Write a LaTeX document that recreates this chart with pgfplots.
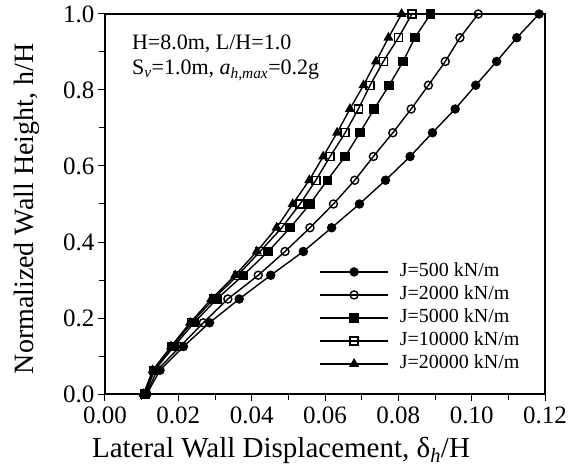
\documentclass[border=0pt]{standalone}
\usepackage{fontspec}
\setmainfont{Liberation Serif}
\usepackage{pgfplots}
\pgfplotsset{compat=1.18}
\begin{document}
\begin{tikzpicture}
\begin{axis}[
  at={(105pt,78pt)}, anchor=south west,
  scale only axis, width=440pt, height=380pt,
  xmin=0, xmax=0.12, ymin=0, ymax=1,
  xtick={0,0.02,0.04,0.06,0.08,0.1,0.12},
  minor xtick={0.01,0.03,0.05,0.07,0.09,0.11},
  ytick={0,0.2,0.4,0.6,0.8,1},
  minor ytick={0.1,0.3,0.5,0.7,0.9},
  xtick pos=bottom, ytick pos=left, tick align=outside,
  major tick length=7pt, minor tick length=6pt,
  every tick/.style={black, line width=1pt},
  axis line style={line width=1.4pt},
  scaled x ticks=false,
  xticklabel style={font=\fontsize{25}{28}\selectfont, yshift=-5pt, inner sep=1pt, /pgf/number format/.cd, fixed, fixed zerofill, precision=2, assume math mode=true},
  yticklabel style={font=\fontsize{25}{28}\selectfont, /pgf/number format/.cd, fixed, fixed zerofill, precision=1, assume math mode=true},
  xlabel={Lateral Wall Displacement, δ\textsubscript{\textit{h}}/H},
  ylabel={Normalized Wall Height, h/H},
  xlabel style={font=\fontsize{29}{32}\selectfont, inner sep=0pt, at={(axis description cs:0.4,-0.1658)}, anchor=base},
  ylabel style={font=\fontsize{28}{32}\selectfont, at={(axis description cs:-0.1636,0.487)}, anchor=base},
  legend style={at={(axis description cs:0.48,0.352)}, anchor=north west, draw=none, fill=none,
    font=\fontsize{20}{22}\selectfont, row sep=4pt,
    nodes={inner sep=0pt, text height=14pt, text depth=5pt}},
  legend cell align=left,
  legend image code/.code={\draw[mark repeat=2,mark phase=2,#1] plot coordinates {(0pt,0pt) (34pt,0pt) (68pt,0pt)}; \path (79pt,0pt);},
]
\addplot[black, line width=1.4pt, mark=*, mark size=4pt] coordinates {
(0.0114,0) (0.0150,0.0625) (0.0214,0.125) (0.0285,0.1875) (0.0366,0.25) (0.0452,0.3125)
(0.0541,0.375) (0.0618,0.4375) (0.0694,0.5) (0.0765,0.5625) (0.0832,0.625) (0.0893,0.6875)
(0.0955,0.75) (0.1011,0.8125) (0.1068,0.875) (0.1123,0.9375) (0.1184,1.0)};
\addlegendentry{J=500 kN/m}
\addplot[black, line width=1.4pt, mark=o, mark size=4pt, mark options={fill=white}] coordinates {
(0.0113,0) (0.0142,0.0625) (0.0205,0.125) (0.0268,0.1875) (0.0335,0.25) (0.0418,0.3125)
(0.0491,0.375) (0.0559,0.4375) (0.0623,0.5) (0.0681,0.5625) (0.0732,0.625) (0.0785,0.6875)
(0.0835,0.75) (0.0882,0.8125) (0.0928,0.875) (0.0968,0.9375) (0.1018,1.0)};
\addlegendentry{J=2000 kN/m}
\addplot[black, line width=1.4pt, mark=square*, mark size=4pt] coordinates {
(0.0110,0) (0.0135,0.0625) (0.0188,0.125) (0.0243,0.1875) (0.0305,0.25) (0.0377,0.3125)
(0.0445,0.375) (0.0505,0.4375) (0.0559,0.5) (0.0606,0.5625) (0.0655,0.625) (0.0695,0.6875)
(0.0734,0.75) (0.0775,0.8125) (0.0813,0.875) (0.0845,0.9375) (0.0888,1.0)};
\addlegendentry{J=5000 kN/m}
\addplot[black, line width=1.4pt, mark=square, mark size=4pt, mark options={fill=white}] coordinates {
(0.0108,0) (0.0132,0.0625) (0.0183,0.125) (0.0236,0.1875) (0.0296,0.25) (0.0362,0.3125)
(0.0423,0.375) (0.0482,0.4375) (0.0532,0.5) (0.0575,0.5625) (0.0614,0.625) (0.0655,0.6875)
(0.0691,0.75) (0.0723,0.8125) (0.0759,0.875) (0.0800,0.9375) (0.0837,1.0)};
\addlegendentry{J=10000 kN/m}
\addplot[black, line width=1.4pt, mark=triangle*, mark size=4.5pt] coordinates {
(0.0105,0) (0.0130,0.0625) (0.0180,0.125) (0.0232,0.1875) (0.0290,0.25) (0.0355,0.3125)
(0.0414,0.375) (0.0468,0.4375) (0.0512,0.5) (0.0557,0.5625) (0.0595,0.625) (0.0633,0.6875)
(0.0668,0.75) (0.0705,0.8125) (0.0739,0.875) (0.0773,0.9375) (0.0809,1.0)};
\addlegendentry{J=20000 kN/m}
\node[anchor=north west, align=left, inner sep=0pt, font=\fontsize{22}{25}\selectfont] at (axis description cs:0.061,0.945)
  {H=8.0m, L/H=1.0\\S\textsubscript{\textit{v}}=1.0m, \textit{a}\textsubscript{\textit{h,max}}=0.2g};
\end{axis}
\pgfresetboundingbox
\path[use as bounding box] (0,0) rectangle (571pt,472pt);
\end{tikzpicture}
\end{document}
